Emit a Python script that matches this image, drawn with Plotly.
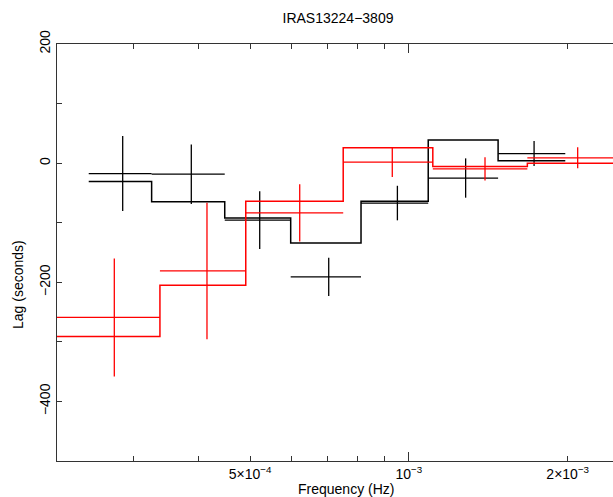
import math
import plotly.graph_objects as go

# ---- data (frequency in Hz, lag in seconds) ----
# black series
bk_lo = [2.472e-4, 3.253e-4, 4.476e-4, 5.969e-4, 8.114e-4, 1.088e-3, 1.476e-3]
bk_hi = [3.253e-4, 4.476e-4, 5.969e-4, 8.114e-4, 1.088e-3, 1.476e-3, 1.979e-3]
bk_f = [2.867e-4, 3.868e-4, 5.214e-4, 7.047e-4, 9.51e-4, 1.281e-3, 1.727e-3]
bk_lag = [-17.5, -18.5, -95.5, -191, -67, -25, 16]
bk_err = [63, 50, 48.5, 32, 29, 33, 21]
bk_model = [-31, -65, -92, -134, -64, 39, 4]

# red series
rd_edges = [2.0e-4, 3.373e-4, 4.906e-4, 7.507e-4, 1.110e-3, 1.677e-3, 2.6e-3]
rd_f = [2.764e-4, 4.142e-4, 6.209e-4, 9.30e-4, 1.394e-3, 2.089e-3]
rd_lag = [-259, -181, -83.5, 1.7, -9.6, 9]
rd_err = [99, 114.5, 48, 25, 19.5, 17.5]
rd_model = [-291, -205, -64, 26, -5.7, 0]

x_ticks = [3e-4, 4e-4, 5e-4, 6e-4, 7e-4, 8e-4, 9e-4, 1e-3, 2e-3]
x_ticktext = ["", "", "5×10<sup>−4</sup>", "", "", "", "", "10<sup>−3</sup>", "2×10<sup>−3</sup>"]
y_ticks = [-400, -300, -200, -100, 0, 100, 200]
y_ticktext = ["−400", "", "−200", "", "0", "", "200"]

FONT = "Liberation Sans, Arial, Helvetica, sans-serif"

W, H = 613, 497

fig = go.Figure()


def add_series(color, lo, hi, f, lag, err, edges, model):
    fig.add_trace(go.Scatter(
        x=f, y=lag, mode="markers",
        marker=dict(size=0.1, color=color, opacity=0),
        error_x=dict(type="data", symmetric=False,
                     array=[h - c for h, c in zip(hi, f)],
                     arrayminus=[c - l for l, c in zip(lo, f)],
                     color=color, thickness=1.3, width=0),
        error_y=dict(type="data", array=err, color=color, thickness=1.3, width=0),
        showlegend=False, hoverinfo="skip"))
    fig.add_trace(go.Scatter(
        x=edges, y=list(model) + [model[-1]], mode="lines",
        line=dict(color=color, width=1.5, shape="hv"),
        showlegend=False, hoverinfo="skip"))


bk_edges = [bk_lo[0]] + bk_hi
add_series("black", bk_lo, bk_hi, bk_f, bk_lag, bk_err, bk_edges, bk_model)
rd_lo = rd_edges[:-1]
rd_hi = rd_edges[1:]
add_series("#ff0000", rd_lo, rd_hi, rd_f, rd_lag, rd_err, rd_edges, rd_model)

xr = [-3.6671, -2.6131]
axcol = "#333333"
fig.update_layout(
    width=W, height=H,
    margin=dict(l=57, r=0, t=44, b=36),
    paper_bgcolor="white", plot_bgcolor="white",
    font=dict(family=FONT, size=14, color="black"),
    hovermode=False,
    title=dict(text="IRAS13224−3809", x=338 / W, y=1 - 18 / H,
               xanchor="center", yanchor="middle",
               font=dict(family=FONT, size=14, color="black")),
    xaxis=dict(type="log", range=xr, showgrid=False, zeroline=False,
               showline=True, linecolor=axcol, linewidth=1.3, mirror="ticks",
               ticks="inside", ticklen=5, tickwidth=1, tickcolor=axcol,
               tickmode="array", tickvals=x_ticks, ticktext=x_ticktext,
               tickfont=dict(family=FONT, size=14)),
    xaxis2=dict(type="log", range=xr, overlaying="x", side="bottom",
                showgrid=False, zeroline=False, showline=False, mirror="ticks",
                ticks="inside", ticklen=9, tickwidth=1, tickcolor=axcol,
                tickmode="array", tickvals=[1e-3], ticktext=[""]),
    yaxis=dict(range=[-500, 200], showgrid=False, zeroline=False,
               showline=True, linecolor=axcol, linewidth=1.3, mirror=False,
               ticks="inside", ticklen=5, tickwidth=1, tickcolor=axcol,
               tickmode="array", tickvals=y_ticks, ticktext=y_ticktext,
               tickangle=-90, tickfont=dict(family=FONT, size=14)),
    annotations=[
        dict(text="Frequency (Hz)", xref="paper", yref="paper",
             x=(346 - 57) / 556, y=(461 - 489) / 417, showarrow=False,
             xanchor="center", yanchor="middle", font=dict(family=FONT, size=14)),
        dict(text="Lag (seconds)", xref="paper", yref="paper",
             x=(18 - 57) / 556, y=(461 - 285) / 417, showarrow=False, textangle=-90,
             xanchor="center", yanchor="middle", font=dict(family=FONT, size=14)),
    ],
)
# dummy trace to activate the overlay axis for the long decade tick
fig.add_trace(go.Scatter(x=[1e-3], y=[None], xaxis="x2", mode="markers",
                         showlegend=False, hoverinfo="skip"))

fig.write_html(
    "out.html",
    config={"displayModeBar": False, "staticPlot": True},
    post_script="document.body.style.margin='0';document.body.style.overflow='hidden';"
                "document.documentElement.style.overflow='hidden';",
)
